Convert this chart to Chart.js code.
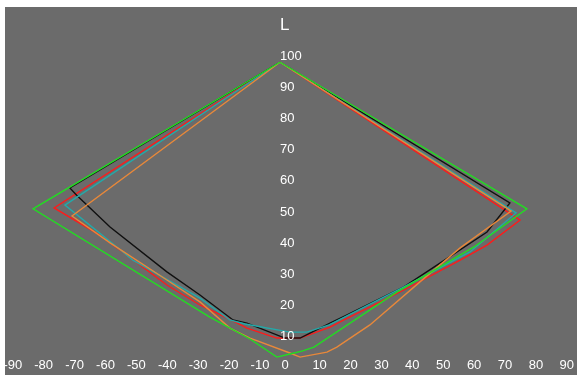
<!DOCTYPE html>
<html lang="en">
<head>
  <meta charset="UTF-8" />
  <title>L cross-section</title>
  <script src="https://cdn.jsdelivr.net/npm/chart.js"></script>
  <style>
    html, body { margin: 0; padding: 0; background: #fff; }
    canvas { display: block; }
  </style>
</head>
<body>
  <canvas id="gamut" width="577" height="380"></canvas>

  <script>
    // tick labels
    const xTicks = [-90, -80, -70, -60, -50, -40, -30, -20, -10, 0, 10, 20, 30, 40, 50, 60, 70, 80, 90];
    const yTicks = [10, 20, 30, 40, 50, 60, 70, 80, 90, 100];

    // outlines (a, L)
    const greenA  = [0, -79.9, -22.7, -9.7, -1, 3.2, 7.1, 11, 37.9, 62.8, 79.9, 0];
    const greenL  = [98, 51, 16.3, 9.3, 3.5, 4.5, 5.4, 6.7, 24.4, 38.8, 51, 98];

    const orangeA = [0, -67.3, -55, -36.6, -25.9, -16.2, -9.7, 3.2, 6.5, 15.2, 18.4, 29.1, 45.3, 58.3, 74.8, 0];
    const orangeL = [98, 48.7, 40.1, 28.2, 21.2, 12.8, 9.6, 4.8, 3.5, 5.1, 6.7, 13.8, 27.6, 38.5, 50.3, 98];

    const cyanA   = [0, -69.6, -47.6, -25.9, -16.2, -11.3, 3.2, 8.7, 15.9, 40.1, 61.5, 76.4, 0];
    const cyanL   = [98, 52.2, 34.6, 22.4, 15.4, 14.1, 11.5, 11.5, 13.8, 26, 37.2, 49.7, 98];

    const blackA  = [0, -68, -65.8, -55, -36.6, -25.9, -15.2, -10.7, 1.6, 6.5, 16.2, 21.7, 40.1, 50.8, 67, 74.4, 0];
    const blackL  = [98, 57.7, 55.4, 45.2, 30.8, 23.4, 15.4, 14.4, 9.6, 9.6, 14.4, 17, 26, 33, 43.6, 52.9, 98];

    const redA    = [0, -73.1, -58.3, -36.6, -25.9, -15.2, -10.7, -1, 6.5, 16.2, 20.7, 40.1, 58.3, 67, 77.7, 0];
    const redL    = [98, 51.3, 42.6, 26.6, 20.2, 15.1, 12.8, 9.6, 9.6, 13.1, 15.4, 25, 34.6, 39.4, 47.4, 98];

    function pts(a, l) {
      return a.map((v, i) => ({ x: v, y: l[i] }));
    }

    function outline(data, color) {
      return {
        data: data,
        showLine: true,
        borderColor: color,
        borderWidth: 1.4,
        pointRadius: 0,
        fill: false,
        tension: 0
      };
    }

    // grey panel behind the plot, leaving a thin white margin
    const panel = {
      id: "panel",
      beforeDraw(chart) {
        const c = chart.ctx;
        c.save();
        c.fillStyle = "#fff";
        c.fillRect(0, 0, chart.width, chart.height);
        c.fillStyle = "#6b6b6b";
        c.fillRect(5, 7, chart.width - 5, 368);
        c.restore();
      }
    };

    // axis numbers sit on the crossing axes, drawn over the lines
    const axisText = {
      id: "axisText",
      afterDraw(chart) {
        const c = chart.ctx;
        const xs = chart.scales.x, ys = chart.scales.y;
        const x0 = xs.getPixelForValue(0);
        c.save();
        c.fillStyle = "#fff";
        c.textAlign = "left";
        c.textBaseline = "middle";
        c.font = "13px 'Liberation Sans', Arial, sans-serif";
        yTicks.forEach(v => c.fillText(String(v), x0, ys.getPixelForValue(v)));
        const yb = ys.getPixelForValue(0) - 3;
        xTicks.forEach(v => c.fillText(String(v), xs.getPixelForValue(v) + 1.5, yb));
        c.font = "17px 'Liberation Sans', Arial, sans-serif";
        c.fillText("L", x0, 25);
        c.restore();
      }
    };

    new Chart(document.getElementById("gamut"), {
      type: "scatter",
      data: {
        datasets: [
          outline(pts(greenA, greenL), "#22dd22"),
          outline(pts(orangeA, orangeL), "#e8883a"),
          outline(pts(cyanA, cyanL), "#22aaaa"),
          outline(pts(blackA, blackL), "#101010"),
          outline(pts(redA, redL), "#ff1a1a")
        ]
      },
      options: {
        responsive: false,
        animation: false,
        layout: { padding: 0 },
        plugins: {
          legend: { display: false },
          tooltip: { enabled: false }
        },
        scales: {
          x: { type: "linear", min: -90.61, max: 96.12, display: false },
          y: { type: "linear", min: -3.846, max: 117.95, display: false }
        }
      },
      plugins: [panel, axisText]
    });
  </script>
</body>
</html>
